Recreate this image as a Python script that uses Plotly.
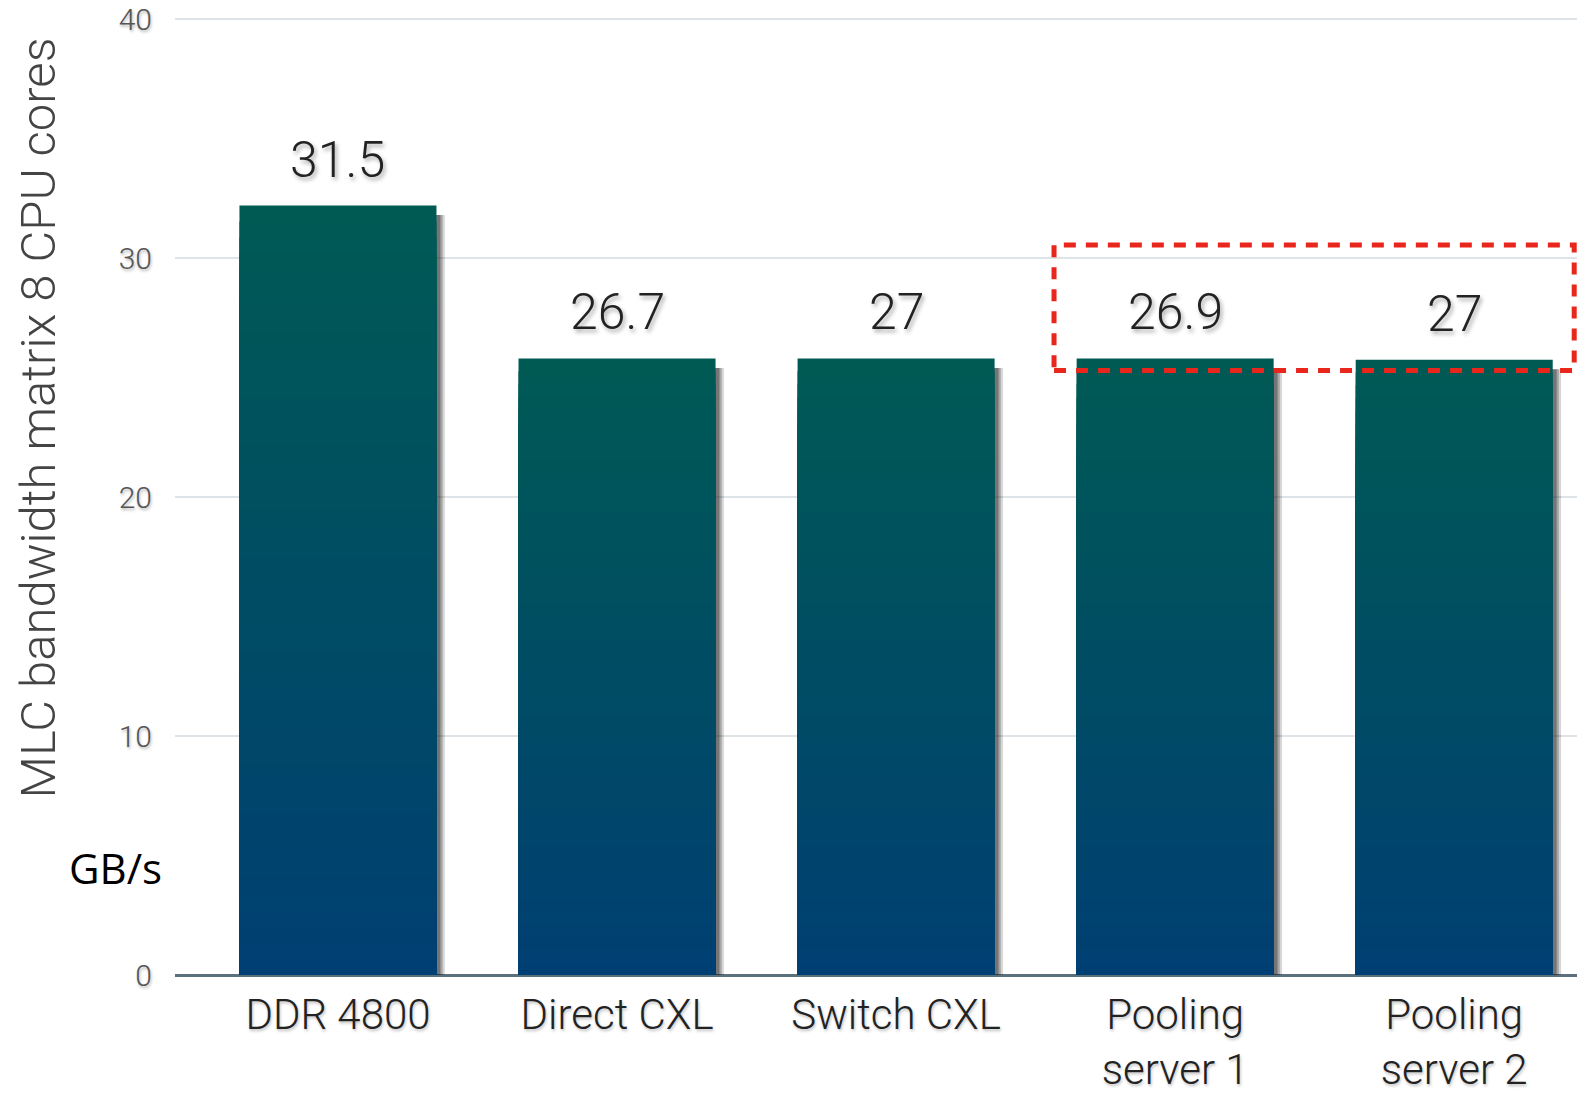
import plotly.graph_objects as go

categories = ["DDR 4800", "Direct CXL", "Switch CXL", "Pooling<br>server 1", "Pooling<br>server 2"]
value_labels = ["31.5", "26.7", "27", "26.9", "27"]
bar_heights = [32.2, 25.8, 25.8, 25.8, 25.75]   # bar heights as drawn in the picture
y_ticks = [0, 10, 20, 30, 40]
highlight_box = dict(x0=2.566, x1=4.43, y0=25.3, y1=30.55)

top_rgb = (0, 90, 84)
bottom_rgb = (0, 63, 115)
N_SEG = 48

FONT = "Roboto, Liberation Sans, Arial, sans-serif"

fig = go.Figure()

# soft shadow behind bars
for dx, alpha in [(0.030, 0.18), (0.022, 0.25), (0.014, 0.35)]:
    fig.add_trace(go.Bar(
        x=categories, y=[h - 0.05 for h in bar_heights], base=[-0.35] * len(bar_heights),
        width=0.706, offset=-0.353 + dx,
        marker=dict(color="rgba(25,25,25,%.2f)" % alpha, line=dict(width=0)),
        hoverinfo="skip", showlegend=False))

# gradient bars: nested bars from full height (top colour) down to small (bottom colour)
for i in range(N_SEG):
    frac = (N_SEG - i) / N_SEG
    t = (N_SEG - i - 0.5) / N_SEG       # colour position, 1 = top
    c = tuple(round(bottom_rgb[k] + (top_rgb[k] - bottom_rgb[k]) * t) for k in range(3))
    fig.add_trace(go.Bar(
        x=categories,
        y=[h * frac for h in bar_heights],
        width=0.706,
        marker=dict(color="rgb(%d,%d,%d)" % c, line=dict(width=0)),
        hoverinfo="skip", showlegend=False))

label_font = dict(family=FONT, size=50, color="#222", weight=300,
                  shadow="2px 3px 4px rgba(0,0,0,0.35)")
for cat, h, lab in zip(categories, bar_heights, value_labels):
    fig.add_annotation(x=cat, y=h, text=lab, showarrow=False, yanchor="bottom",
                       yshift=15, font=label_font)

fig.add_shape(type="rect", xref="x", yref="y", **highlight_box,
              line=dict(color="#e8261c", width=5, dash="12px,10px"), layer="above")

fig.add_annotation(xref="paper", yref="paper", x=-0.0977, y=0.578,
                   xanchor="center", yanchor="middle",
                   text="MLC bandwidth matrix 8 CPU cores", textangle=-90, showarrow=False,
                   font=dict(family=FONT, size=49, color="#444", weight=300))

fig.add_annotation(xref="paper", yref="paper", x=-0.0421, y=0.1121,
                   xanchor="center", yanchor="middle",
                   text="GB/s", showarrow=False,
                   font=dict(family="Open Sans, Noto Sans, sans-serif", size=42, color="#000"))

fig.update_layout(
    width=1577, height=1100,
    margin=dict(l=175, r=0, t=12, b=125),
    paper_bgcolor="white", plot_bgcolor="white",
    barmode="overlay",
    xaxis=dict(type="category", range=[-0.584, 4.44], showgrid=False, showline=False,
               automargin=False,
               ticks="outside", ticklen=3, tickcolor="rgba(0,0,0,0)",
               tickfont=dict(family=FONT, size=42, color="#222", weight=300,
                             shadow="1px 2px 3px rgba(0,0,0,0.25)")),
    yaxis=dict(range=[0, 40.3], tickvals=y_ticks, showgrid=True, gridcolor="#dde3e6", gridwidth=2,
               automargin=False, ticklabeloverflow="allow",
               zeroline=True, zerolinecolor="#5b707d", zerolinewidth=3,
               ticks="outside", ticklen=16, tickcolor="rgba(0,0,0,0)",
               tickfont=dict(family=FONT, size=30, color="#555", weight=300,
                             shadow="1px 2px 3px rgba(0,0,0,0.3)")),
)

fig.write_html("out.html")
